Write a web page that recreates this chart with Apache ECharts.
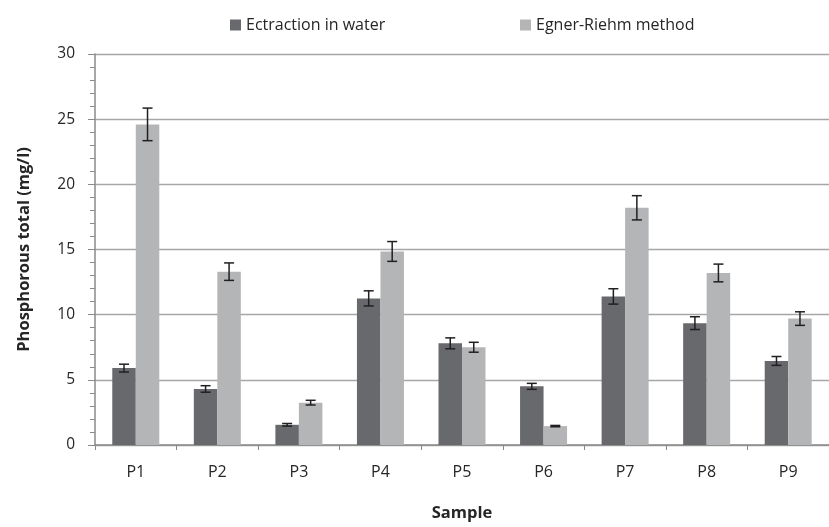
<!DOCTYPE html>
<html>
<head>
<meta charset="utf-8">
<script src="https://cdn.jsdelivr.net/npm/echarts@6/dist/echarts.min.js"></script>
<style>html,body{margin:0;padding:0;background:#fff;}#c{width:829px;height:527px;}</style>
</head>
<body>
<div id="c"></div>
<script>
var categories = ['P1', 'P2', 'P3', 'P4', 'P5', 'P6', 'P7', 'P8', 'P9'];
var seriesNames = ['Ectraction in water', 'Egner-Riehm method'];
var water = [5.9, 4.3, 1.55, 11.25, 7.8, 4.5, 11.4, 9.35, 6.45];
var waterErr = [0.3, 0.25, 0.1, 0.58, 0.42, 0.23, 0.59, 0.49, 0.34];
var egner = [24.6, 13.3, 3.25, 14.85, 7.5, 1.45, 18.2, 13.2, 9.7];
var egnerErr = [1.25, 0.67, 0.18, 0.76, 0.38, 0.05, 0.93, 0.68, 0.52];
var yTicks = [0, 5, 10, 15, 20, 25, 30];

var FONT = 'Open Sans';
var BAR_W = 23.5;
var COLORS = ['#68696d', '#b4b5b7'];

function errData(vals, errs) {
  return vals.map(function (v, i) { return [i, v - errs[i], v + errs[i]]; });
}
function errSeries(vals, errs, sign) {
  return {
    type: 'custom',
    data: errData(vals, errs),
    encode: { x: 0, y: [1, 2] },
    z: 10,
    silent: true,
    renderItem: function (params, api) {
      var i = api.value(0);
      var lo = api.coord([i, api.value(1)]);
      var hi = api.coord([i, api.value(2)]);
      var x = lo[0] + sign * BAR_W / 2;
      var cap = 5;
      var st = { stroke: '#231f20', lineWidth: 1.5, fill: null };
      return {
        type: 'group',
        children: [
          { type: 'line', shape: { x1: x, y1: lo[1], x2: x, y2: hi[1] }, style: st },
          { type: 'line', shape: { x1: x - cap, y1: lo[1], x2: x + cap, y2: lo[1] }, style: st },
          { type: 'line', shape: { x1: x - cap, y1: hi[1], x2: x + cap, y2: hi[1] }, style: st }
        ]
      };
    }
  };
}

var chart = echarts.init(document.getElementById('c'), null, { renderer: 'canvas' });
chart.setOption({
  animation: false,
  backgroundColor: '#ffffff',
  textStyle: { fontFamily: FONT },
  legend: [
    {
      left: 225, top: 12, itemWidth: 11, itemHeight: 11, icon: 'rect',
      data: [seriesNames[0]],
      textStyle: { fontFamily: FONT, fontSize: 16, color: '#262626' }
    },
    {
      left: 515, top: 12, itemWidth: 11, itemHeight: 11, icon: 'rect',
      data: [seriesNames[1]],
      textStyle: { fontFamily: FONT, fontSize: 16, color: '#262626' }
    }
  ],
  grid: { left: 95, right: -12, top: 54, bottom: 74, containLabel: false },
  xAxis: {
    type: 'category',
    data: categories,
    name: 'Sample',
    nameLocation: 'middle',
    nameGap: 60,
    nameTextStyle: { fontFamily: FONT, fontSize: 16.5, fontWeight: 'bold', color: '#262626' },
    axisLine: { lineStyle: { color: '#8a8a8a', width: 1.5 } },
    axisTick: { show: true, length: 5, alignWithLabel: false, lineStyle: { color: '#8a8a8a' } },
    axisLabel: { fontFamily: FONT, fontSize: 16, color: '#262626', margin: 19 },
    splitLine: { show: false }
  },
  yAxis: {
    type: 'value',
    min: yTicks[0],
    max: yTicks[yTicks.length - 1],
    interval: 5,
    name: 'Phosphorous total (mg/l)',
    nameLocation: 'middle',
    nameRotate: 90,
    nameGap: 62,
    nameTextStyle: { fontFamily: FONT, fontSize: 16.5, fontWeight: 'bold', color: '#262626' },
    axisLine: { show: true, lineStyle: { color: '#8a8a8a', width: 1.5 } },
    axisTick: { show: true, length: 7, lineStyle: { color: '#8a8a8a' } },
    minorTick: { show: true, splitNumber: 5, length: 5, lineStyle: { color: '#8a8a8a' } },
    axisLabel: { fontFamily: FONT, fontSize: 15.5, color: '#262626', margin: 20 },
    splitLine: { show: true, lineStyle: { color: '#a6a6a6', width: 1.3 } }
  },
  series: [
    {
      name: seriesNames[0], type: 'bar', data: water, barWidth: BAR_W, barGap: '0%',
      itemStyle: { color: COLORS[0] }
    },
    {
      name: seriesNames[1], type: 'bar', data: egner, barWidth: BAR_W, barGap: '0%',
      itemStyle: { color: COLORS[1] }
    },
    errSeries(water, waterErr, -1),
    errSeries(egner, egnerErr, 1)
  ]
});
</script>
</body>
</html>
